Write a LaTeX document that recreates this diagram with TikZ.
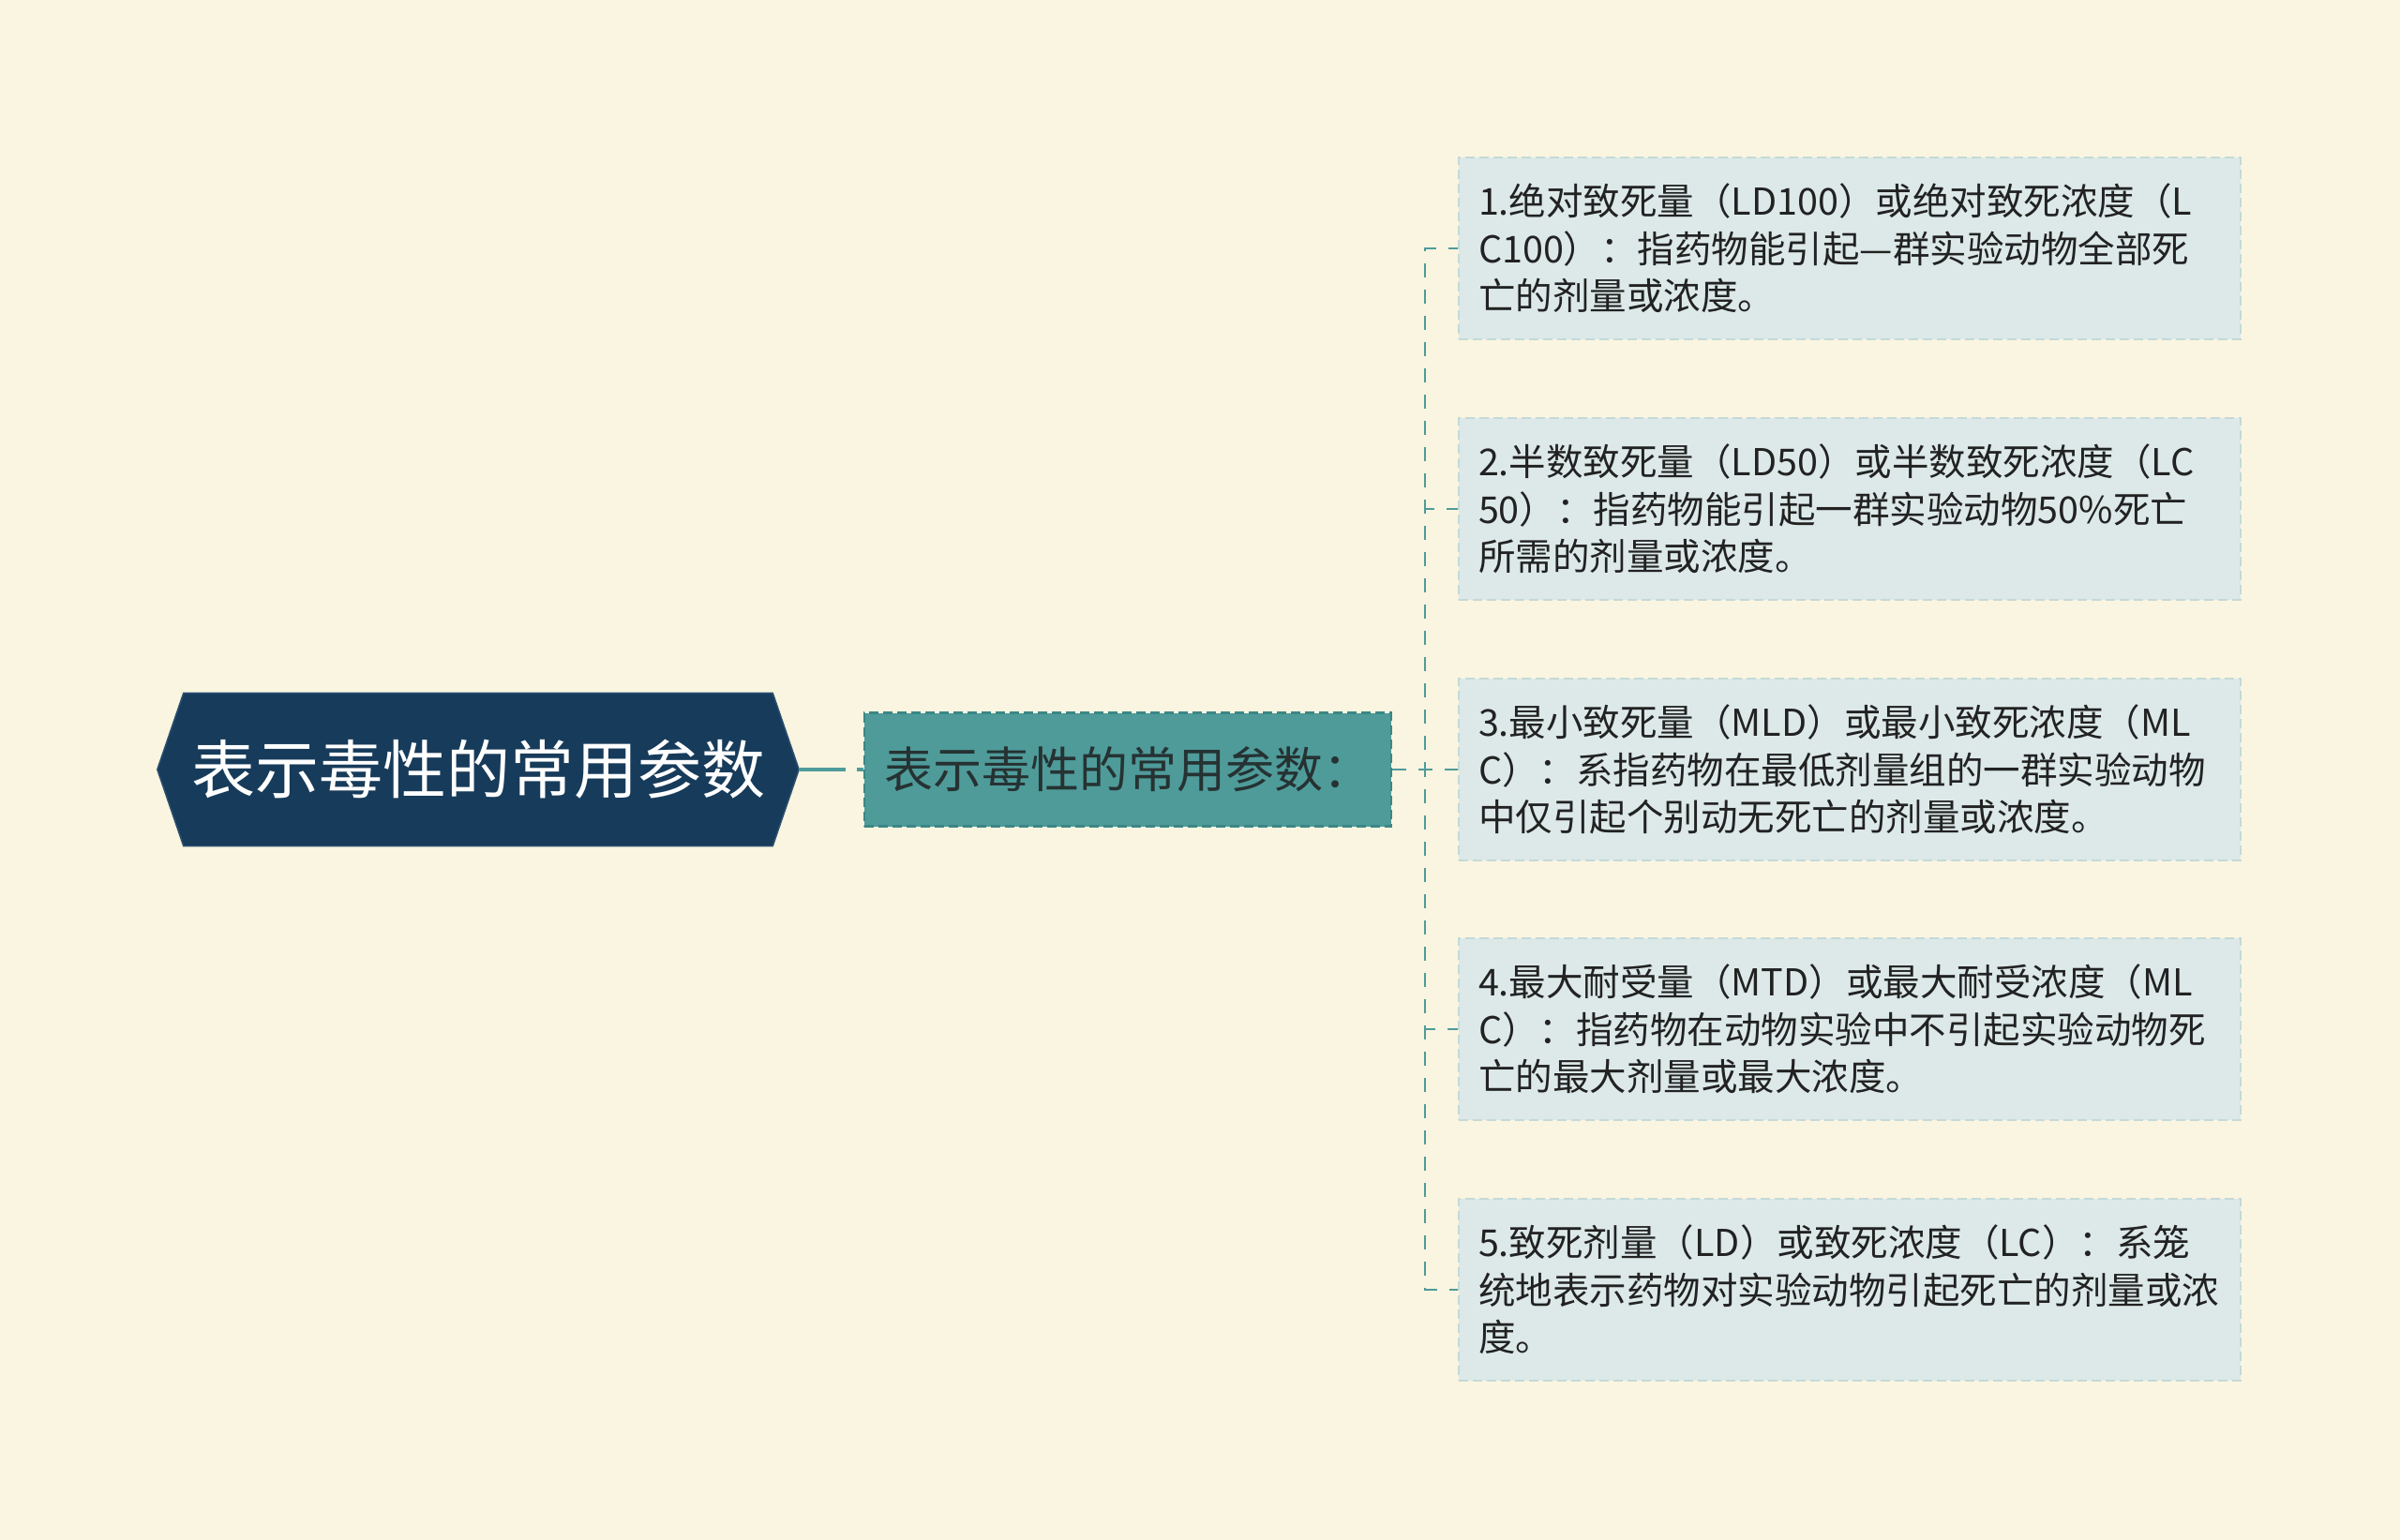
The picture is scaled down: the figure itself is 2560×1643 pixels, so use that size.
\documentclass[tikz,border=0pt]{standalone}
\usepackage{fontspec}
\setmainfont{Noto Sans CJK SC}
\usetikzlibrary{backgrounds}
\definecolor{bgc}{HTML}{FAF5E0}
\definecolor{rootc}{HTML}{173B5A}
\definecolor{rootb}{HTML}{2C5070}
\definecolor{midc}{HTML}{4E9B9A}
\definecolor{midb}{HTML}{3C8786}
\definecolor{midt}{HTML}{263232}
\definecolor{leafc}{HTML}{DCE9E8}
\definecolor{leafb}{HTML}{C4D9D8}
\definecolor{linec}{HTML}{4E9B9A}
\definecolor{txt}{HTML}{222222}
\begin{document}
\begin{tikzpicture}[x=1pt,y=-1pt,
  rootbox/.style={rectangle, minimum width=684pt, minimum height=163pt, inner sep=0pt,
    text=white, font=\fontsize{68}{74}\selectfont},
  midbox/.style={rectangle, fill=midc, draw=midb, line width=2.5pt, dash pattern=on 10pt off 5pt,
    minimum width=562pt, minimum height=121pt, inner sep=0pt, text=midt,
    font=\fontsize{52}{58}\selectfont},
  leafbox/.style={rectangle, fill=leafc, draw=leafb, line width=2pt, dash pattern=on 10pt off 5pt,
    minimum height=194pt, text width=792pt, inner xsep=21pt, inner ysep=0pt, align=left,
    text=txt, font=\fontsize{39.5}{50.6}\selectfont},
  rootline/.style={draw=linec, line width=4pt, dash pattern=on 50pt off 12pt},
  leafline/.style={draw=linec, line width=2.5pt, dash pattern=on 15pt off 13pt}
]
\useasboundingbox (0,0) rectangle (2560,1643);

\node[rootbox] (root) at (510,821) {表示毒性的常用参数};
\node[midbox] (mid) at (1203,821) {表示毒性的常用参数：};

\node[leafbox] (leaf1) at (1973,265) {1.绝对致死量（LD100）或绝对致死浓度（L\\C100）：指药物能引起—群实验动物全部死\\亡的剂量或浓度。};
\node[leafbox] (leaf2) at (1973,543) {2.半数致死量（LD50）或半数致死浓度（LC\\50）：指药物能引起一群实验动物50\%死亡\\所需的剂量或浓度。};
\node[leafbox] (leaf3) at (1973,821) {3.最小致死量（MLD）或最小致死浓度（ML\\C）：系指药物在最低剂量组的一群实验动物\\中仅引起个别动无死亡的剂量或浓度。};
\node[leafbox] (leaf4) at (1973,1098) {4.最大耐受量（MTD）或最大耐受浓度（ML\\C）：指药物在动物实验中不引起实验动物死\\亡的最大剂量或最大浓度。};
\node[leafbox] (leaf5) at (1973,1376) {5.致死剂量（LD）或致死浓度（LC）：系笼\\统地表示药物对实验动物引起死亡的剂量或浓\\度。};

\coordinate (bus) at (1520,821);

\draw[rootline] (root.east) -- (mid.west);
\foreach \i in {1,...,5}{
  \draw[leafline] (mid.east) -- (bus) |- (leaf\i.west);
}

\begin{pgfonlayer}{background}
  \fill[bgc] (0,0) rectangle (2560,1643);
  \filldraw[fill=rootc, draw=rootb, line width=1.5pt]
    (root.west) -- ([xshift=28pt]root.north west) -- ([xshift=-28pt]root.north east)
    -- (root.east) -- ([xshift=-28pt]root.south east) -- ([xshift=28pt]root.south west) -- cycle;
\end{pgfonlayer}
\end{tikzpicture}
\end{document}
